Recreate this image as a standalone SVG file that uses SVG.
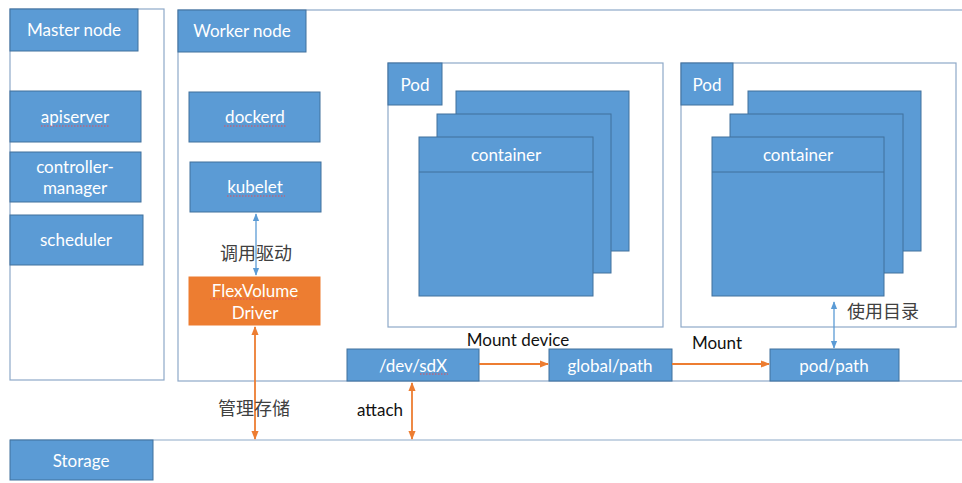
<svg xmlns="http://www.w3.org/2000/svg" width="962" height="483" viewBox="0 0 962 483">
<defs>
<style>
.frame{fill:#fff;stroke:#8EA9C8;stroke-width:1.2}
.box{fill:#5B9BD5;stroke:#41719C;stroke-width:1}
.orange{fill:#ED7D31;stroke:#ED7D31;stroke-width:1}
.t{font-family:Lato,"Open Sans","Liberation Sans",sans-serif;font-size:17px;fill:#fff;text-anchor:middle;dominant-baseline:central}
.d{font-family:Lato,"Open Sans","Liberation Sans",sans-serif;font-size:17px;fill:#111;text-anchor:middle;dominant-baseline:central}
.cjk{font-family:"Noto Sans CJK SC",sans-serif;font-size:18px;fill:#404040;text-anchor:middle;dominant-baseline:central}
.sq{stroke:#E0505A;stroke-width:1;stroke-dasharray:1.5 1.5;fill:none}
.ab{stroke:#5B9BD5;stroke-width:1.3;fill:none}
.ao{stroke:#ED7D31;stroke-width:1.8;fill:none}
.line{stroke:#8EA9C8;stroke-width:1.2;fill:none}
</style>
<marker id="mb" viewBox="0 0 10 10" refX="9" refY="5" markerWidth="6" markerHeight="6" orient="auto-start-reverse"><path d="M0,1 L10,5 L0,9 z" fill="#5B9BD5"/></marker>
<marker id="mo" viewBox="0 0 10 10" refX="9" refY="5" markerWidth="5" markerHeight="5" orient="auto-start-reverse"><path d="M0,1 L10,5 L0,9 z" fill="#ED7D31"/></marker>
</defs>

<g id="master-node">
<rect class="frame" x="10" y="9" width="154" height="371"/>
<rect class="box" x="10" y="9" width="128" height="42"/>
<text class="t" x="74" y="29">Master node</text>
</g>
<g id="apiserver">
<rect class="box" x="10" y="91" width="131" height="51"/>
<text class="t" x="75" y="116">apiserver</text>
<path class="sq" d="M41,126 H110"/>
</g>
<g id="controller-manager">
<rect class="box" x="10" y="152" width="131" height="50"/>
<text class="t" x="75" y="166">controller-</text>
<text class="t" x="75" y="187">manager</text>
</g>
<g id="scheduler">
<rect class="box" x="10" y="215" width="133" height="50"/>
<text class="t" x="76" y="239">scheduler</text>
</g>

<g id="worker-node">
<rect class="frame" x="178" y="10" width="800" height="371"/>
<rect class="box" x="178" y="10" width="128" height="42"/>
<text class="t" x="242" y="30">Worker node</text>
</g>
<g id="dockerd">
<rect class="box" x="189" y="92" width="131" height="50"/>
<text class="t" x="255" y="116">dockerd</text>
<path class="sq" d="M224,126 H286"/>
</g>
<g id="kubelet">
<rect class="box" x="190" y="162" width="131" height="50"/>
<text class="t" x="255" y="186">kubelet</text>
<path class="sq" d="M227,196 H285"/>
</g>
<g id="flexvolume-driver">
<rect class="orange" x="189" y="277" width="131" height="48"/>
<text class="t" x="255" y="290">FlexVolume</text>
<text class="t" x="255" y="312">Driver</text>
<path class="sq" d="M210,299 H300"/>
</g>

<g id="pod-1">
<rect class="frame" x="388" y="63" width="275" height="264"/>
<rect class="box" x="388" y="63" width="54" height="42"/>
<text class="t" x="415" y="84">Pod</text>
<rect class="box" x="456" y="91" width="173" height="160"/>
<rect class="box" x="437" y="114" width="174" height="159"/>
<rect class="box" x="419" y="137" width="174" height="159"/>
<line x1="419" y1="172" x2="593" y2="172" stroke="#41719C" stroke-width="1"/>
<text class="t" x="506" y="154">container</text>
</g>
<g id="pod-2">
<rect class="frame" x="681" y="63" width="275" height="264"/>
<rect class="box" x="681" y="63" width="52" height="42"/>
<text class="t" x="707" y="84">Pod</text>
<rect class="box" x="748" y="91" width="173" height="160"/>
<rect class="box" x="730" y="114" width="173" height="159"/>
<rect class="box" x="712" y="137" width="172" height="159"/>
<line x1="712" y1="172" x2="884" y2="172" stroke="#41719C" stroke-width="1"/>
<text class="t" x="798" y="154">container</text>
</g>

<g id="dev-sdx">
<rect class="box" x="347" y="349" width="132" height="32"/>
<text class="t" x="413" y="365">/dev/sdX</text>
<path class="sq" d="M420,374 H448"/>
</g>
<g id="global-path">
<rect class="box" x="549" y="349" width="123" height="32"/>
<text class="t" x="610" y="365">global/path</text>
</g>
<g id="pod-path">
<rect class="box" x="770" y="349" width="129" height="32"/>
<text class="t" x="834" y="365">pod/path</text>
</g>

<g id="storage">
<line class="line" x1="10" y1="440" x2="962" y2="440"/>
<rect class="box" x="10" y="440" width="143" height="40"/>
<text class="t" x="81" y="460">Storage</text>
</g>

<g id="connectors">
<line class="ab" x1="256" y1="214" x2="256" y2="275" marker-start="url(#mb)" marker-end="url(#mb)"/>
<line class="ao" x1="255" y1="327" x2="255" y2="439" marker-start="url(#mo)" marker-end="url(#mo)"/>
<line class="ao" x1="412" y1="383" x2="412" y2="439" marker-start="url(#mo)" marker-end="url(#mo)"/>
<line class="ao" x1="479" y1="364" x2="548" y2="364" marker-end="url(#mo)"/>
<line class="ao" x1="672" y1="364" x2="769" y2="364" marker-end="url(#mo)"/>
<line class="ab" x1="834" y1="302" x2="834" y2="348" marker-start="url(#mb)" marker-end="url(#mb)"/>
</g>

<g id="labels">
<text class="cjk" x="256" y="252">调用驱动</text>
<text class="cjk" x="254" y="407">管理存储</text>
<text class="d" x="380" y="409">attach</text>
<text class="d" x="518" y="339">Mount device</text>
<text class="d" x="717" y="342">Mount</text>
<text class="cjk" x="883" y="310">使用目录</text>
</g>
</svg>
